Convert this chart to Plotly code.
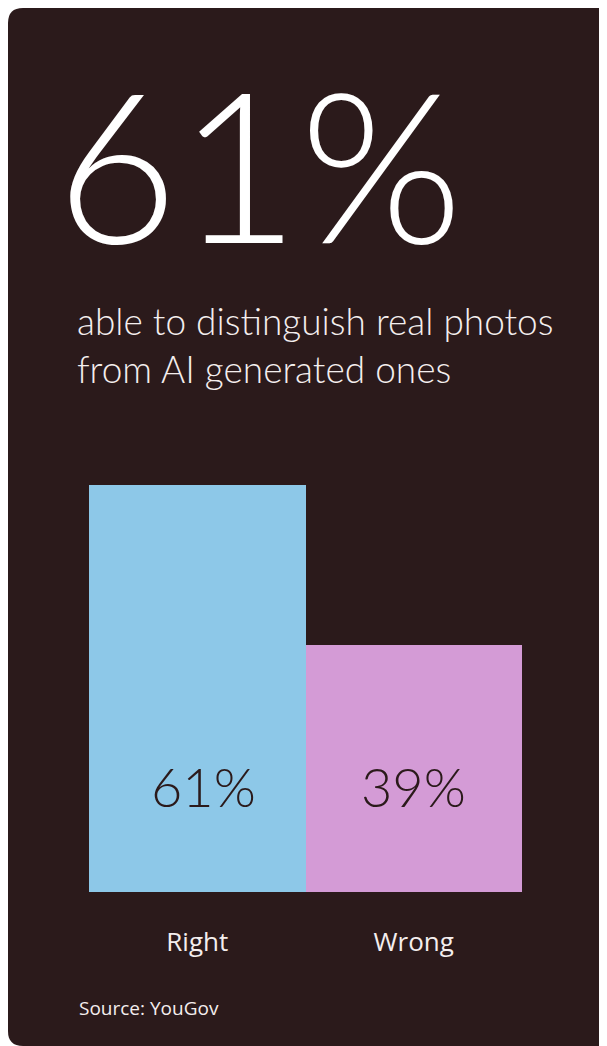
import plotly.graph_objects as go

# ---- data ----
categories = ["Right", "Wrong"]
values = [61, 39]
bar_colors = ["#8dc8e8", "#d49bd6"]
headline = "61%"
subtitle_lines = ["able to distinguish real photos", "from AI generated ones"]
source_text = "Source: YouGov"

W, H = 615, 1038
OFF = 8  # page body margin offset
BG = "#2b1a1b"
LIGHT = "#f4eeee"

def px(x):
    return (x - OFF) / W

def py(y):
    return 1 - (y - OFF) / H

fig = go.Figure()
fig.add_trace(go.Bar(
    x=categories, y=values, marker=dict(color=bar_colors, line=dict(width=0)),
    hoverinfo="skip", showlegend=False,
))

# rounded card
x0, x1, y0, y1, r = 8, 614, 8, 1046, 15
rx, ry = r / W, r / H
X0, X1, Y0, Y1 = px(x0), px(x1), py(y0), py(y1)
path = (f"M {X0+rx},{Y0} L {X1-rx},{Y0} Q {X1},{Y0} {X1},{Y0-ry} "
        f"L {X1},{Y1+ry} Q {X1},{Y1} {X1-rx},{Y1} "
        f"L {X0+rx},{Y1} Q {X0},{Y1} {X0},{Y1+ry} "
        f"L {X0},{Y0-ry} Q {X0},{Y0} {X0+rx},{Y0} Z")
fig.add_shape(type="path", path=path, xref="paper", yref="paper",
              fillcolor=BG, line=dict(width=0), layer="below")

annotations = [
    dict(text=headline, x=px(54), y=py(162), xref="paper", yref="paper",
         xanchor="left", yanchor="middle", showarrow=False,
         font=dict(family="Lato", size=210, color="white", weight=300)),
    dict(text="<br>".join(subtitle_lines), x=px(75), y=py(345), xref="paper", yref="paper",
         xanchor="left", yanchor="middle", showarrow=False, align="left",
         font=dict(family="Lato", size=37, color=LIGHT, weight=300)),
    dict(text=source_text, x=px(77), y=py(1008), xref="paper", yref="paper",
         xanchor="left", yanchor="middle", showarrow=False,
         font=dict(family="Open Sans", size=19, color=LIGHT)),
]
for i, (c, v) in enumerate(zip(categories, values)):
    annotations.append(dict(
        text=f"{v}%", x=c, y=19.5, xref="x", yref="y", showarrow=False,
        xanchor="center", yanchor="middle", xshift=6 if i == 0 else 0,
        font=dict(family="Lato", size=54, color=BG, weight=300)))

fig.update_layout(
    width=W, height=H, margin=dict(l=0, r=0, t=0, b=0),
    paper_bgcolor="white", plot_bgcolor="rgba(0,0,0,0)",
    bargap=0, annotations=annotations,
    xaxis=dict(domain=[px(89), px(522)], range=[-0.5, 1.5], showgrid=False,
               zeroline=False, showline=False, ticks="",
               tickfont=dict(family="Open Sans", size=26, color=LIGHT),
               ticklabelstandoff=32),
    yaxis=dict(domain=[py(892), py(485)], range=[5, 61], visible=False),
)

fig.write_html("out.html")
